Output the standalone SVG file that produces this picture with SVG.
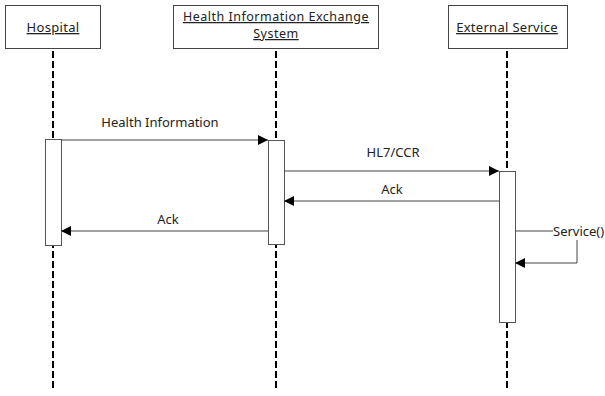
<svg xmlns="http://www.w3.org/2000/svg" width="605" height="396" viewBox="0 0 605 396">
  <style>
    .box { fill: #fff; stroke: #444; stroke-width: 1; }
    .act { fill: #fff; stroke: #555; stroke-width: 1; }
    .life { stroke: #000; stroke-width: 2; stroke-dasharray: 7 3; fill: none; }
    .msg { stroke: #444; stroke-width: 1; fill: none; }
    text { font-family: "Noto Sans", "DejaVu Sans", sans-serif; font-size: 13px; fill: #222; }
    .head { text-anchor: middle; text-decoration: underline; letter-spacing: 0.3px; }
    .head2 { font-size: 12.5px; letter-spacing: 0.5px; }
  </style>
  <defs>
    <marker id="arrow" viewBox="0 0 10 10" refX="10" refY="5" markerWidth="10" markerHeight="10" markerUnits="userSpaceOnUse" orient="auto">
      <path d="M0,0 L10,5 L0,10 Z" fill="#000"/>
    </marker>
  </defs>

  <!-- lifelines -->
  <g id="lifelines">
    <line class="life" x1="53" y1="51" x2="53" y2="390"/>
    <line class="life" x1="276" y1="51" x2="276" y2="390"/>
    <line class="life" x1="507" y1="51" x2="507" y2="390"/>
  </g>

  <g id="hospital">
    <rect class="box" x="5.5" y="5.5" width="95" height="43"/>
    <text class="head" x="53" y="32">Hospital</text>
    <rect class="act" x="45.5" y="139.5" width="16" height="106"/>
  </g>

  <g id="hie">
    <rect class="box" x="173.5" y="5.5" width="205" height="43"/>
    <text class="head head2" x="276" y="21">Health Information Exchange</text>
    <text class="head head2" x="276" y="38">System</text>
    <rect class="act" x="268.5" y="140.5" width="16" height="104"/>
  </g>

  <g id="external">
    <rect class="box" x="448.5" y="5.5" width="119" height="43"/>
    <text class="head" x="507" y="32">External Service</text>
    <rect class="act" x="499.5" y="171.5" width="16" height="151"/>
  </g>

  <g id="connectors">
    <line class="msg" x1="61" y1="140" x2="268" y2="140" marker-end="url(#arrow)"/>
    <text x="160" y="127" text-anchor="middle">Health Information</text>

    <line class="msg" x1="284" y1="171" x2="499" y2="171" marker-end="url(#arrow)"/>
    <text x="393" y="157" text-anchor="middle">HL7/CCR</text>

    <line class="msg" x1="499" y1="201" x2="284" y2="201" marker-end="url(#arrow)"/>
    <text x="392" y="194" text-anchor="middle">Ack</text>

    <line class="msg" x1="268" y1="231" x2="61" y2="231" marker-end="url(#arrow)"/>
    <text x="168" y="224" text-anchor="middle">Ack</text>

    <polyline class="msg" points="515,231 553,231"/>
    <polyline class="msg" points="577,240 577,263 515,263" marker-end="url(#arrow)"/>
    <text x="553" y="236">Service()</text>
  </g>
</svg>
